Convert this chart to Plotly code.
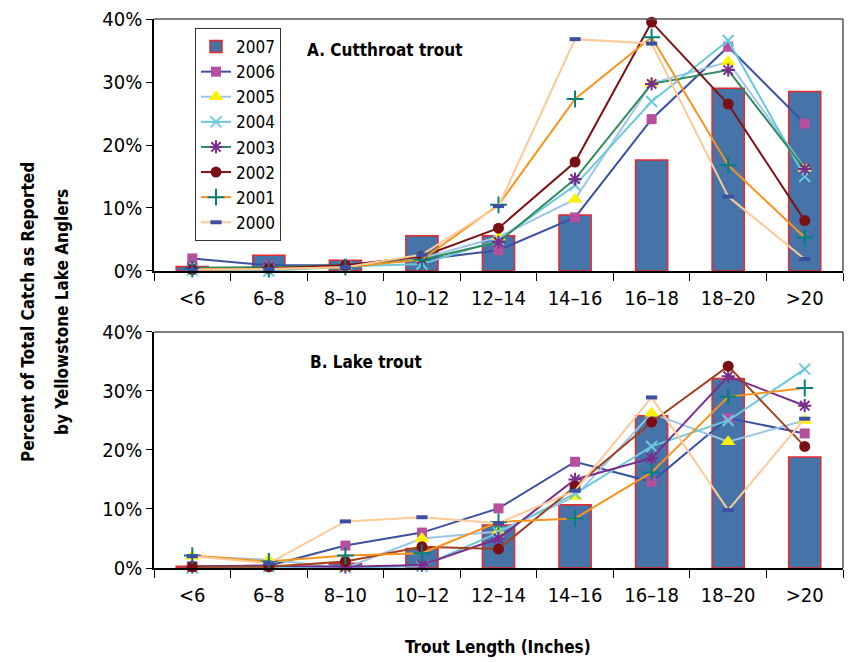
import plotly.graph_objects as go

# Length classes (inches)
categories = ["<6", "6–8", "8–10", "10–12", "12–14", "14–16", "16–18", "18–20", ">20"]
years = ["2007", "2006", "2005", "2004", "2003", "2002", "2001", "2000"]

# A. Cutthroat trout: percent of total catch per length class
ct_2007 = [0.7, 2.5, 1.7, 5.6, 5.6, 8.9, 17.6, 29.0, 28.5]
ct_2006 = [2.0, 0.9, 0.9, 1.8, 3.3, 8.5, 24.1, 35.6, 23.4]
ct_2005 = [0.3, 0.4, 0.8, 2.0, 5.4, 11.4, 29.8, 33.2, 16.3]
ct_2004 = [0.2, 0.0, 0.7, 1.1, 4.9, 13.6, 26.9, 36.6, 15.0]
ct_2003 = [0.5, 0.6, 0.9, 1.8, 4.6, 14.6, 29.7, 31.9, 16.2]
ct_2002 = [0.2, 0.4, 0.9, 2.3, 6.8, 17.3, 39.5, 26.5, 8.0]
ct_2001 = [0.3, 0.3, 0.6, 1.8, 10.5, 27.3, 37.1, 16.8, 5.3]
ct_2000 = [0.2, 0.3, 0.6, 2.6, 10.3, 36.8, 36.1, 11.8, 1.9]

# B. Lake trout: percent of total catch per length class
lt_2007 = [0.3, 0.1, 0.8, 3.3, 7.3, 10.7, 25.8, 32.1, 18.8]
lt_2006 = [0.3, 0.4, 3.8, 6.0, 10.1, 18.0, 14.6, 25.4, 22.8]
lt_2005 = [2.0, 1.4, 0.0, 5.0, 6.2, 12.1, 26.2, 21.4, 25.0]
lt_2004 = [0.0, 0.2, 0.1, 0.3, 6.0, 12.6, 20.6, 25.0, 33.7]
lt_2003 = [0.2, 0.4, 0.2, 0.5, 5.0, 15.0, 18.6, 32.5, 27.5]
lt_2002 = [0.2, 0.2, 1.1, 3.6, 3.2, 13.8, 24.7, 34.2, 20.6]
lt_2001 = [2.1, 1.1, 2.1, 2.5, 7.8, 8.4, 16.2, 29.0, 30.5]
lt_2000 = [2.0, 0.8, 7.9, 8.6, 7.6, 13.1, 28.9, 9.8, 25.3]

y_ticks = [0, 10, 20, 30, 40]
y_tick_labels = ["0%", "10%", "20%", "30%", "40%"]

FONT = "Liberation Sans Narrow, Arial Narrow, DejaVu Sans Condensed, sans-serif"

# Line/marker styling per year (lake trout panel uses different line hues for 2003/2002)
styles = {
    "2006": dict(line="#3B4FA3", line_b="#3B4FA3", sym="square", mcol="#B5509F", size=10, open=False),
    "2005": dict(line="#9CC6E8", line_b="#9CC6E8", sym="triangle-up", mcol="#FFF200", size=13, open=False),
    "2004": dict(line="#6CC8DC", line_b="#6CC8DC", sym="x-thin-open", mcol="#6CC8DC", size=11, open=True),
    "2003": dict(line="#2E8B5E", line_b="#7A2D8C", sym="asterisk-open", mcol="#7A2D8C", size=11, open=True),
    "2002": dict(line="#7A1416", line_b="#A0421E", sym="circle", mcol="#7A1014", size=11, open=False),
    "2001": dict(line="#F7941D", line_b="#F7941D", sym="cross-thin-open", mcol="#008080", size=12, open=True),
    "2000": dict(line="#FDC996", line_b="#FDC996", sym="line-ew-open", mcol="#3B4FA3", size=8, open=True),
}

cut = {"2006": ct_2006, "2005": ct_2005, "2004": ct_2004, "2003": ct_2003,
       "2002": ct_2002, "2001": ct_2001, "2000": ct_2000}
lake = {"2006": lt_2006, "2005": lt_2005, "2004": lt_2004, "2003": lt_2003,
        "2002": lt_2002, "2001": lt_2001, "2000": lt_2000}

fig = go.Figure()

BAR_FILL = "#4673A8"
BAR_EDGE = "#E8292B"

fig.add_trace(go.Bar(x=categories, y=ct_2007, name="2007", width=0.42,
                     marker=dict(color=BAR_FILL, line=dict(color=BAR_EDGE, width=1.5)),
                     xaxis="x", yaxis="y", showlegend=True))
fig.add_trace(go.Bar(x=categories, y=lt_2007, name="2007", width=0.42,
                     marker=dict(color=BAR_FILL, line=dict(color=BAR_EDGE, width=1.5)),
                     xaxis="x2", yaxis="y2", showlegend=False))


def marker_for(st):
    if st["open"]:
        w = 4 if st["sym"] == "line-ew-open" else 2
        return dict(symbol=st["sym"], size=st["size"], color=st["mcol"],
                    line=dict(color=st["mcol"], width=w))
    return dict(symbol=st["sym"], size=st["size"], color=st["mcol"], line=dict(width=0))


for yr in years[1:]:
    st = styles[yr]
    fig.add_trace(go.Scatter(x=categories, y=cut[yr], name=yr, mode="lines+markers",
                             line=dict(color=st["line"], width=2), marker=marker_for(st),
                             cliponaxis=False, xaxis="x", yaxis="y", showlegend=True))
for yr in years[1:]:
    st = styles[yr]
    fig.add_trace(go.Scatter(x=categories, y=lake[yr], name=yr, mode="lines+markers",
                             line=dict(color=st["line_b"], width=2), marker=marker_for(st),
                             cliponaxis=False, xaxis="x2", yaxis="y2", showlegend=False))

xaxis_common = dict(type="category", range=[-0.5, 8.5], showline=True, linecolor="black",
                    linewidth=1.5, ticks="outside", tickson="boundaries", ticklen=8,
                    tickcolor="black", tickwidth=1.2, showgrid=False, zeroline=False,
                    ticklabelstandoff=8,
                    tickfont=dict(family=FONT, size=20, color="black"))
yaxis_common = dict(range=[0, 40], tickmode="array", tickvals=y_ticks, ticktext=y_tick_labels,
                    showline=True, linecolor="black", linewidth=1.5, ticks="outside", ticklen=6,
                    tickcolor="black", tickwidth=1.2, showgrid=False, zeroline=False,
                    tickfont=dict(family=FONT, size=20, color="black"))

fig.update_layout(
    width=851, height=662,
    margin=dict(l=154, r=8, t=19, b=94),
    plot_bgcolor="white", paper_bgcolor="white",
    barmode="overlay",
    font=dict(family=FONT, color="black"),
    xaxis=dict(**xaxis_common, anchor="y"),
    yaxis=dict(**yaxis_common, domain=[0.541, 1.0], anchor="x"),
    xaxis2=dict(**xaxis_common, anchor="y2"),
    yaxis2=dict(**yaxis_common, domain=[0.0, 0.430], anchor="x2"),
    legend=dict(x=0.0595, y=0.9836, xanchor="left", yanchor="top",
                bordercolor="#333333", borderwidth=1, bgcolor="white",
                font=dict(family=FONT, size=17, color="black"), tracegroupgap=0),
    showlegend=True,
)

# Top and right frame edges for both panels
for xr, yr in (("x domain", "y domain"), ("x2 domain", "y2 domain")):
    fig.add_shape(type="line", xref=xr, yref=yr, x0=0, x1=1, y0=1, y1=1,
                  line=dict(color="#555555", width=1.5))
    fig.add_shape(type="line", xref=xr, yref=yr, x0=1, x1=1, y0=0, y1=1,
                  line=dict(color="#555555", width=1.5))

title_font = dict(family=FONT, size=17, color="black")
fig.add_annotation(text="<b>A. Cutthroat trout</b>", xref="paper", yref="paper",
                   x=0.219, y=0.9435, xanchor="left", yanchor="middle", showarrow=False,
                   font=title_font)
fig.add_annotation(text="<b>B. Lake trout</b>", xref="paper", yref="paper",
                   x=0.2235, y=0.375, xanchor="left", yanchor="middle", showarrow=False,
                   font=title_font)
fig.add_annotation(text="<b>Trout Length (Inches)</b>", xref="paper", yref="paper",
                   x=0.4993, y=-0.1439, xanchor="center", yanchor="middle", showarrow=False,
                   font=title_font)
fig.add_annotation(text="<b>Percent of Total Catch as Reported</b>", xref="paper", yref="paper",
                   x=(28 - 154) / 689, y=(568 - 312) / 549, xanchor="center", yanchor="middle",
                   textangle=-90, showarrow=False, font=title_font)
fig.add_annotation(text="<b>by Yellowstone Lake Anglers</b>", xref="paper", yref="paper",
                   x=(62 - 154) / 689, y=(568 - 312) / 549, xanchor="center", yanchor="middle",
                   textangle=-90, showarrow=False, font=title_font)

fig.write_html("out.html")
